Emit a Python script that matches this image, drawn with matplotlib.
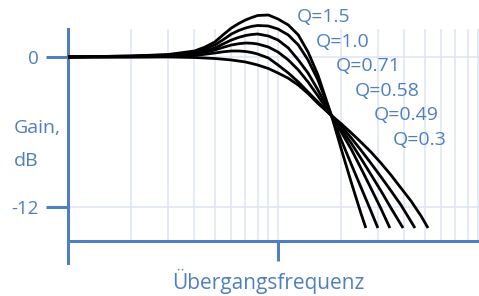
import matplotlib
matplotlib.use("Agg")
import matplotlib.pyplot as plt
import numpy as np

# ---------------- data ----------------
q_labels = ["Q=1.5", "Q=1.0", "Q=0.71", "Q=0.58", "Q=0.49", "Q=0.3"]

# frequency relative to the transition frequency (Übergangsfrequenz = 1)
freq_common = [0.1, 0.2, 0.3, 0.4, 0.45, 0.5, 0.55, 0.6, 0.65, 0.7, 0.75, 0.8, 0.9, 1.0,
               1.12, 1.25, 1.39, 1.55, 1.8]

gain_q150 = [0, 0.08, 0.2, 0.48, 0.8, 1.2, 1.8, 2.32, 2.68, 2.96, 3.16, 3.32, 3.36, 3.04,
             2.56, 1.76, 0.4, -1.44, -4.72]
gain_q100 = [0, 0.08, 0.16, 0.4, 0.64, 0.96, 1.4, 1.84, 2.12, 2.32, 2.45, 2.52, 2.48, 2.24,
             1.76, 0.96, -0.24, -1.84, -4.72]
gain_q071 = [0, 0.04, 0.12, 0.28, 0.48, 0.72, 1.06, 1.36, 1.57, 1.72, 1.8, 1.84, 1.68, 1.36,
             0.72, -0.24, -1.28, -2.64, -4.72]
gain_q058 = [0, 0.04, 0.08, 0.2, 0.36, 0.56, 0.78, 0.96, 1.06, 1.12, 1.1, 1.04, 0.8, 0.4,
             -0.24, -1.04, -2.0, -3.12, -4.72]
gain_q049 = [0, 0, 0.04, 0.12, 0.22, 0.32, 0.42, 0.48, 0.48, 0.44, 0.36, 0.24, -0.08, -0.64,
             -1.28, -2.0, -2.8, -3.6, -4.72]
gain_q030 = [0, 0, 0, -0.04, -0.08, -0.12, -0.18, -0.24, -0.32, -0.4, -0.52, -0.64, -0.92, -1.28,
             -1.7, -2.25, -2.92, -3.72, -4.68]

tail_f_q150 = [2.0, 2.23, 2.48, 2.62]
tail_g_q150 = [-7.36, -10.0, -12.48, -13.68]
tail_f_q100 = [2.0, 2.23, 2.48, 2.77, 2.99]
tail_g_q100 = [-6.64, -8.56, -10.4, -12.32, -13.68]
tail_f_q071 = [2.0, 2.23, 2.48, 2.77, 3.09, 3.41]
tail_g_q071 = [-6.0, -7.36, -8.88, -10.5, -12.12, -13.68]
tail_f_q058 = [2.0, 2.23, 2.48, 2.77, 3.09, 3.45, 3.94]
tail_g_q058 = [-5.76, -6.88, -8.1, -9.4, -10.7, -12.08, -13.68]
tail_f_q049 = [2.0, 2.23, 2.48, 2.77, 3.09, 3.45, 3.85, 4.49]
tail_g_q049 = [-5.52, -6.46, -7.44, -8.5, -9.58, -10.7, -11.84, -13.68]
tail_f_q030 = [2.0, 2.23, 2.48, 2.77, 3.09, 3.45, 3.85, 4.3, 4.8, 5.18]
tail_g_q030 = [-5.34, -6.06, -6.8, -7.6, -8.48, -9.44, -10.48, -11.52, -12.72, -13.68]

ytick_values = [0, -12]
ytick_labels = ["0", "-12"]
xtick_values = [1]
grid_freqs = [0.2, 0.3, 0.4, 0.5, 0.6, 0.7, 0.8, 0.9, 1, 2, 3, 4, 5, 6, 7, 8, 9]

# ---------------- style ----------------
BLUE = "#4f7fc0"
GRID = "#dce6f3"
FONT = "Open Sans"

fig = plt.figure(figsize=(4.79, 2.96), dpi=100)
ax = fig.add_axes([0, 0, 1, 1])
ax.set_xscale("log")
ax.set_xlim(0.04745, 9.06)
ax.set_ylim(-19.12, 4.56)
ax.patch.set_alpha(0)

# grid
y_top_grid = 2.24
y_axis = -14.72
ax.vlines(grid_freqs, y_axis, y_top_grid, color=GRID, lw=1.1, zorder=1)
ax.hlines([0, -12], 0.1, 9.06, color=GRID, lw=1.1, zorder=1)

# curves
series = [
    (gain_q150, tail_f_q150, tail_g_q150),
    (gain_q100, tail_f_q100, tail_g_q100),
    (gain_q071, tail_f_q071, tail_g_q071),
    (gain_q058, tail_f_q058, tail_g_q058),
    (gain_q049, tail_f_q049, tail_g_q049),
    (gain_q030, tail_f_q030, tail_g_q030),
]
for g, tf, tg in series:
    ax.plot(list(freq_common) + list(tf), list(g) + list(tg), color="black",
            lw=2.0, solid_joinstyle="round", solid_capstyle="butt", zorder=3)

# spines
for s in ["top", "right"]:
    ax.spines[s].set_visible(False)
ax.spines["left"].set_position(("data", 0.1))
ax.spines["left"].set_bounds(-16.48, 2.24)
ax.spines["bottom"].set_position(("data", y_axis))
ax.spines["bottom"].set_bounds(0.1, 9.06)
for s in ["left", "bottom"]:
    ax.spines[s].set_color(BLUE)
    ax.spines[s].set_linewidth(2.2)
    ax.spines[s].set_zorder(2)

ax.set_yticks(ytick_values)
ax.set_yticklabels(ytick_labels)
ax.set_xticks(xtick_values)
ax.set_xticklabels([""])
ax.xaxis.set_minor_locator(matplotlib.ticker.NullLocator())
ax.tick_params(axis="y", direction="out", length=15.8, width=2.2, color=BLUE,
               labelcolor=BLUE, labelsize=13.5, pad=5.5)
ax.tick_params(axis="x", direction="out", length=14.4, width=2.2, color=BLUE)
for lab in ax.get_yticklabels():
    lab.set_fontfamily(FONT)

# texts
ax.text(0.0553, -6.1, "Gain,", color=BLUE, fontsize=14, family=FONT, ha="left", va="baseline")
ax.text(0.0553, -8.7, "dB", color=BLUE, fontsize=14, family=FONT, ha="left", va="baseline")
ax.text(0.896, -18.56, "Übergangsfrequenz", color=BLUE, fontsize=15, family=FONT,
        ha="center", va="baseline")

lx0, ly0 = 297, 17
for i, lab in enumerate(q_labels):
    px = lx0 + 19.2 * i
    py = ly0 + 24.6 * i
    ax.text(10 ** ((px - 278) / 210), (57 - py) / 12.5, lab, color=BLUE, fontsize=14,
            family=FONT, ha="left", va="center")

fig.savefig("out.png", dpi=100)
